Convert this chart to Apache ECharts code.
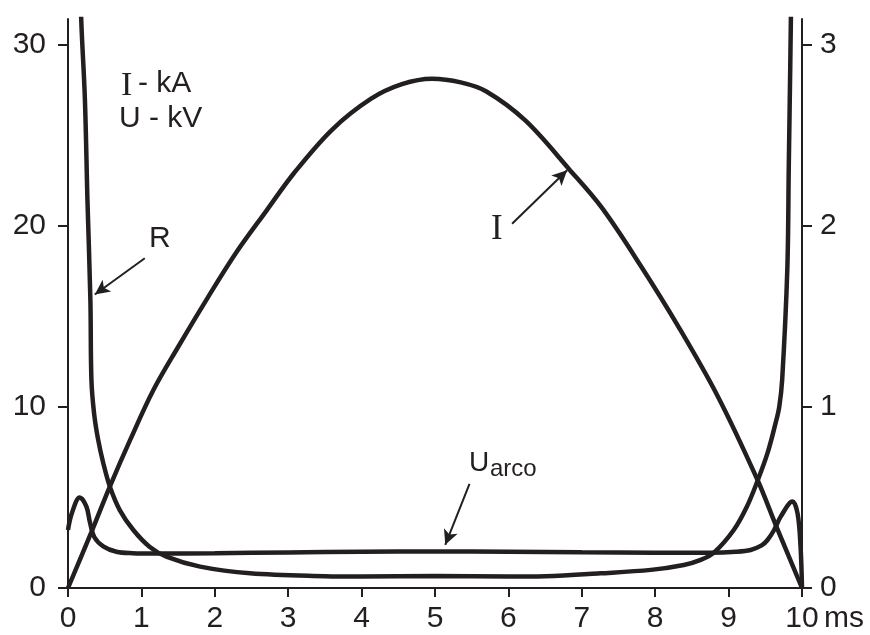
<!DOCTYPE html>
<html>
<head>
<meta charset="utf-8">
<script src="https://cdn.jsdelivr.net/npm/echarts@6/dist/echarts.min.js"></script>
<style>html,body{margin:0;padding:0;background:#fff}#c{width:870px;height:635px}</style>
</head>
<body>
<div id="c"></div>
<script>
// ---- data (time in ms) ----
const xTicks = [0,1,2,3,4,5,6,7,8,9,10];
const leftTicks = [0,10,20,30];
const rightTicks = [0,1,2,3];

// current I (kA), left axis
const iTime   = [0, 0.32, 0.57, 0.85, 1.16, 1.5, 1.9, 2.29, 2.7, 3.08, 3.6, 4.13, 4.55, 4.96, 5.35, 5.7, 6.23, 6.83, 7.27, 7.8, 8.32, 8.85, 9.39, 9.64, 10];
const iValues = [0, 3.1, 5.6, 8.2, 10.9, 13.3, 16.0, 18.5, 20.8, 22.9, 25.3, 27.0, 27.8, 28.1, 27.9, 27.4, 25.8, 23.1, 21.0, 17.8, 14.4, 10.6, 6.0, 3.5, 0];

// arc voltage Uarco (kV), left axis
const uTime   = [0, 0.05, 0.16, 0.25, 0.30, 0.36, 0.48, 0.66, 0.88, 1.2, 2, 3, 4, 5, 6, 7, 8, 8.75, 9.1, 9.3, 9.45, 9.53, 9.62, 9.71, 9.87, 9.94, 9.98, 10];
const uValues = [3.2, 4.1, 5.0, 4.5, 3.6, 2.8, 2.3, 2.0, 1.92, 1.9, 1.92, 1.96, 2.0, 2.02, 2.0, 1.97, 1.95, 1.95, 2.0, 2.1, 2.35, 2.65, 3.2, 3.94, 4.77, 4.1, 2.3, 0.05];

// arc resistance R, right axis
const rTime   = [0.16, 0.18, 0.23, 0.265, 0.305, 0.319, 0.355, 0.41, 0.48, 0.57, 0.705, 0.89, 1.11, 1.34, 1.8, 2.48, 3.5, 4, 5, 6, 6.5, 7.25, 7.94, 8.39, 8.62, 8.8, 9.07, 9.25, 9.39, 9.53, 9.64, 9.69, 9.73, 9.8, 9.82, 9.84, 9.86];
const rValues = [3.5, 3.14, 2.7, 2.14, 1.59, 1.15, 0.965, 0.82, 0.69, 0.56, 0.43, 0.32, 0.228, 0.173, 0.118, 0.081, 0.065, 0.063, 0.066, 0.063, 0.065, 0.081, 0.1, 0.127, 0.155, 0.195, 0.32, 0.45, 0.587, 0.744, 0.91, 1.0, 1.15, 1.76, 2.33, 2.88, 3.5];

const pairs = (xs, ys) => xs.map((x, i) => [x, ys[i]]);

const INK = '#231f20';
const SANS = 'Liberation Sans, Arial, Helvetica, sans-serif';
const SERIF = 'Liberation Serif, Times New Roman, serif';
const FS = 30;

const chart = echarts.init(document.getElementById('c'), null, {renderer: 'canvas'});

const arrowLine = (from, to) => ({
  symbol: ['none', 'arrow'],
  symbolSize: [11, 15],
  lineStyle: {color: INK, width: 2, type: 'solid'},
  label: {show: false},
  silent: true,
  data: [[{coord: from}, {coord: to}]]
});

const lineSeries = (name, data, yIdx, extra) => Object.assign({
  name, type: 'line', data, yAxisIndex: yIdx,
  showSymbol: false, symbol: 'none',
  smooth: 0.35,
  lineStyle: {color: INK, width: 4.5},
  clip: true, animation: false
}, extra || {});

chart.setOption({
  animation: false,
  backgroundColor: '#fff',
  grid: {left: 68, right: 68, top: 19, bottom: 47, containLabel: false},
  xAxis: {
    type: 'value', min: 0, max: 10, interval: 1,
    axisLine: {show: true, onZero: false, lineStyle: {color: INK, width: 2}},
    axisTick: {show: true, length: 9, lineStyle: {color: INK, width: 2}},
    axisLabel: {color: INK, fontFamily: SANS, fontSize: FS, margin: 16},
    splitLine: {show: false}
  },
  yAxis: [
    {
      type: 'value', min: 0, max: 31.4, interval: 10, position: 'left',
      axisLine: {show: true, onZero: false, lineStyle: {color: INK, width: 2}},
      axisTick: {show: true, length: 10, lineStyle: {color: INK, width: 2}, customValues: leftTicks},
      axisLabel: {color: INK, fontFamily: SANS, fontSize: FS, margin: 22, customValues: leftTicks},
      splitLine: {show: false}
    },
    {
      type: 'value', min: 0, max: 3.14, interval: 1, position: 'right',
      axisLine: {show: true, onZero: false, lineStyle: {color: INK, width: 2}},
      axisTick: {show: true, length: 10, lineStyle: {color: INK, width: 2}, customValues: rightTicks},
      axisLabel: {color: INK, fontFamily: SANS, fontSize: FS, margin: 18, customValues: rightTicks},
      splitLine: {show: false}
    }
  ],
  series: [
    lineSeries('I', pairs(iTime, iValues), 0, {markLine: arrowLine([6.05, 20.1], [6.80, 23.05])}),
    lineSeries('Uarco', pairs(uTime, uValues), 0, {markLine: arrowLine([5.47, 5.75], [5.14, 2.38])}),
    lineSeries('R', pairs(rTime, rValues), 1, {markLine: arrowLine([1.046 , 1.82], [0.365, 1.62])})
  ],
  graphic: [
    {type: 'text', left: 121, top: 69, style: {text: 'I', font: '34px ' + SERIF, fill: INK}},
    {type: 'text', left: 138, top: 69, style: {text: '- kA', font: FS + 'px ' + SANS, fill: INK}},
    {type: 'text', left: 119, top: 104, style: {text: 'U - kV', font: FS + 'px ' + SANS, fill: INK}},
    {type: 'text', left: 149, top: 224, style: {text: 'R', font: FS + 'px ' + SANS, fill: INK}},
    {type: 'text', left: 491, top: 212, style: {text: 'I', font: '35px ' + SERIF, fill: INK}},
    {type: 'text', left: 469, top: 449, style: {text: 'U', font: '28px ' + SANS, fill: INK}},
    {type: 'text', left: 490, top: 457, style: {text: 'arco', font: '24px ' + SANS, fill: INK}},
    {type: 'text', left: 824, top: 604, style: {text: 'ms', font: FS + 'px ' + SANS, fill: INK}}
  ]
});
</script>
</body>
</html>
